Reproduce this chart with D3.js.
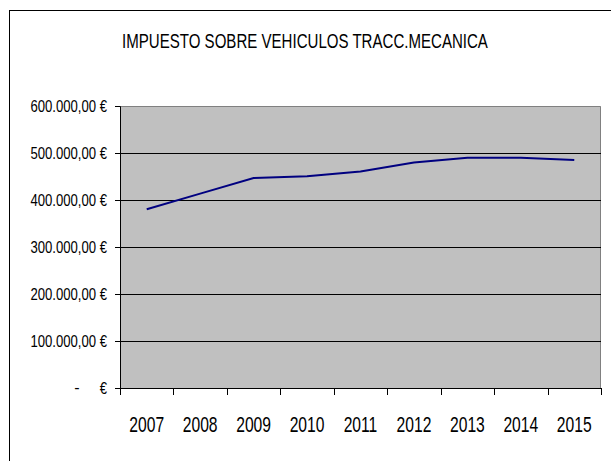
<!DOCTYPE html>
<html>
<head>
<meta charset="utf-8">
<script src="https://cdn.jsdelivr.net/npm/d3@7"></script>
<style>
  body { margin: 0; background: #fff; }
  text { font-family: "Liberation Sans Narrow", "Arial Narrow", "Liberation Sans", sans-serif; fill: #000; }
</style>
</head>
<body>
<div id="chart"></div>
<script>
// config
var WD = 611, HT = 461
var margin = { left: 120, right: 10, top: 106, bottom: 73 }
var width = 601 - margin.left
var height = 388 - margin.top

// data
var years = ["2007", "2008", "2009", "2010", "2011", "2012", "2013", "2014", "2015"]
var values = [380200, 413600, 446800, 450400, 460500, 480000, 490000, 490000, 485000]
var yTicks = [0, 100000, 200000, 300000, 400000, 500000, 600000]
var title = "IMPUESTO SOBRE VEHICULOS TRACC.MECANICA"

var svg = d3.select("#chart")
  .append("svg")
    .attr("width", WD)
    .attr("height", HT)

// outer chart border (continues past the picture)
svg.append("rect")
  .attr("x", 9.5).attr("y", 10.5)
  .attr("width", 800).attr("height", 800)
  .attr("fill", "none")
  .attr("stroke", "#000")
  .attr("stroke-width", 1)

// title, squeezed to the narrow width of the original
var titleText = svg.append("text")
  .attr("text-anchor", "middle")
  .style("font-size", "21px")
  .text(title)
var tw = titleText.node().getComputedTextLength()
titleText.attr("transform", "translate(305,48) scale(" + Math.min(1, 366 / tw) + ",1)")

var g = svg.append("g")
  .attr("transform", "translate(" + margin.left + "," + margin.top + ")")

var x = d3.scaleBand().domain(years).range([0, width])
var y = d3.scaleLinear().domain([0, 600000]).range([height, 0])

// plot area
g.append("rect")
  .attr("width", width).attr("height", height)
  .attr("fill", "#c0c0c0")

// plot area border (top and right)
g.append("path")
  .attr("d", "M0,0.5H" + (width - 0.5) + "V" + height)
  .attr("fill", "none")
  .attr("stroke", "#808080")
  .attr("stroke-width", 1)

// gridlines
g.selectAll(".grid")
  .data(yTicks.filter(function(d) { return d > 0 && d < 600000; }))
  .enter().append("line")
    .attr("class", "grid")
    .attr("x1", 0).attr("x2", width)
    .attr("y1", function(d) { return Math.round(y(d)) + 0.5; })
    .attr("y2", function(d) { return Math.round(y(d)) + 0.5; })
    .attr("stroke", "#000")

// y axis
var fmt = function(d) {
  if (d == 0) return "\u20ac";
  return d3.format(",.2f")(d).replace(/,/g, "#").replace(".", ",").replace(/#/g, ".") + " \u20ac";
}
var yAxis = g.append("g")
  .call(d3.axisLeft(y).tickValues(yTicks).tickSize(5).tickPadding(8).tickFormat(fmt))
yAxis.select(".domain").attr("stroke", "#000")
yAxis.selectAll(".tick text")
  .attr("font-family", null)
  .style("font-size", "16px")
  .attr("x", 0)
  .attr("transform", "translate(-13,0) scale(0.82,1)")

// zero label dash
yAxis.append("text")
  .attr("x", -43).attr("y", height).attr("dy", "0.32em")
  .attr("text-anchor", "middle")
  .style("font-size", "16px")
  .text("-")

// x axis
var xAxis = g.append("g")
  .attr("transform", "translate(0," + height + ")")
  .call(d3.axisBottom(x).tickSize(0).tickFormat(""))
xAxis.select(".domain").attr("stroke", "#000")

xAxis.selectAll(".sep")
  .data(years.concat([null]))
  .enter().append("line")
    .attr("class", "sep")
    .attr("x1", function(d, i) { return Math.round(i * x.step()) + 0.5; })
    .attr("x2", function(d, i) { return Math.round(i * x.step()) + 0.5; })
    .attr("y1", 0).attr("y2", 7)
    .attr("stroke", "#000")

xAxis.selectAll(".lbl")
  .data(years)
  .enter().append("text")
    .attr("class", "lbl")
    .attr("text-anchor", "middle")
    .attr("transform", function(d) { return "translate(" + (x(d) + x.bandwidth() / 2) + ",44) scale(0.87,1.2)"; })
    .style("font-size", "18px")
    .text(function(d) { return d; })

// line
var line = d3.line()
  .x(function(d, i) { return x(years[i]) + x.bandwidth() / 2; })
  .y(function(d) { return y(d); })

g.append("path")
  .datum(values)
  .attr("d", line)
  .attr("fill", "none")
  .attr("stroke", "#000080")
  .attr("stroke-width", 2)
</script>
</body>
</html>
